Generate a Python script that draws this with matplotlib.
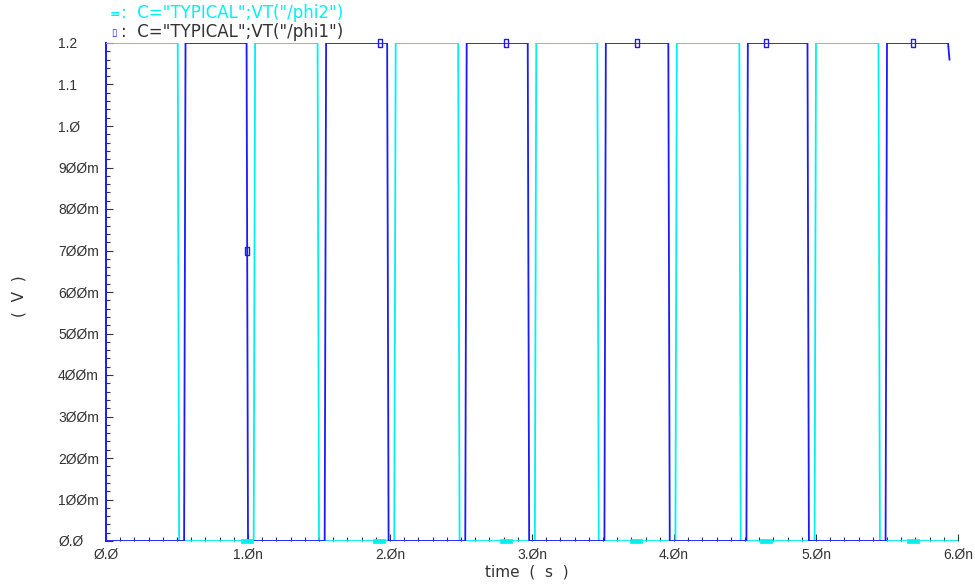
import matplotlib
matplotlib.use('Agg')
import matplotlib.pyplot as plt
from matplotlib.ticker import MultipleLocator, FixedLocator
from matplotlib.markers import MarkerStyle
import numpy as np

plt.rcParams['font.family'] = ['Liberation Sans', 'DejaVu Sans']

# edge times (ns)
phi2_rise = [1.04, 2.03, 3.02, 4.01, 4.99]
phi2_fall = [0.505, 1.49, 2.48, 3.46, 4.46, 5.44]
phi1_rise = [0.55, 1.54, 2.53, 3.51, 4.51, 5.49]
phi1_fall = [0.99, 1.98, 2.97, 3.96, 4.94]
phi1_end = (5.94, 1.16)   # trace stops on the last falling edge
t_stop = 6.0
vdd = 1.2
tr = 0.01

# marker positions on the traces (ns, V)
phi1_marks_t = [0.99, 1.93, 2.82, 3.74, 4.65, 5.68]
phi1_marks_v = [0.70, 1.2, 1.2, 1.2, 1.2, 1.2]
phi2_marks_t = [0.99, 1.92, 2.82, 3.73, 4.65, 5.68]
phi2_marks_v = [0.0, 0.0, 0.0, 0.0, 0.0, 0.0]

yticks = [0.0, 0.1, 0.2, 0.3, 0.4, 0.5, 0.6, 0.7, 0.8, 0.9, 1.0, 1.1, 1.2]
ylabels = ['Ø.Ø', '1ØØm', '2ØØm', '3ØØm', '4ØØm', '5ØØm', '6ØØm', '7ØØm',
           '8ØØm', '9ØØm', '1.Ø', '1.1', '1.2']
xticks = [0, 1, 2, 3, 4, 5, 6]
xlabels = ['Ø.Ø', '1.Øn', '2.Øn', '3.Øn', '4.Øn', '5.Øn', '6.Øn']


def wave(v0, rises, falls, t_end):
    ts, vs = [0.0], [v0]
    for te, lvl in sorted([(r, vdd) for r in rises] + [(f, 0.0) for f in falls]):
        ts += [te, te + tr]
        vs += [vs[-1], lvl]
    ts.append(t_end)
    vs.append(vs[-1])
    return np.array(ts), np.array(vs)


t2, v2 = wave(vdd, phi2_rise, phi2_fall, t_stop)
t1, v1 = wave(0.0, phi1_rise, phi1_fall, phi1_end[0] - tr)
t1 = np.append(t1, phi1_end[0])
v1 = np.append(v1, phi1_end[1])

blue = '#1a1aff'
cyan = '#00f0f0'
txt = '#333333'

tall_box = MarkerStyle([(-1, -2), (1, -2), (1, 2), (-1, 2), (-1, -2)])
flat_box = MarkerStyle([(-2, -0.7), (2, -0.7), (2, 0.7), (-2, 0.7), (-2, -0.7)])

fig = plt.figure(figsize=(9.75, 5.85), dpi=100)
ax = fig.add_axes([106/975, 44/585, 852/975, 498/585])

ax.plot(t2, v2, color=cyan, lw=1.3, zorder=3)
ax.plot(t1, v1, color=blue, lw=1.3, zorder=4)
ax.plot(phi2_marks_t, phi2_marks_v, ls='none', marker=flat_box, ms=8,
        mfc=cyan, mec=cyan, mew=0.5, zorder=5, clip_on=False)
ax.plot(phi1_marks_t, phi1_marks_v, ls='none', marker=tall_box, ms=6,
        mfc='none', mec=blue, mew=1.0, zorder=6, clip_on=False)

ax.set_xlim(0, t_stop)
ax.set_ylim(0, vdd)
for s in ['top', 'right', 'bottom']:
    ax.spines[s].set_visible(False)
ax.spines['left'].set_color(blue)
ax.spines['left'].set_linewidth(1.4)

ax.yaxis.set_major_locator(FixedLocator(yticks))
ax.set_yticklabels(ylabels)
ax.yaxis.set_minor_locator(MultipleLocator(0.02))
ax.xaxis.set_major_locator(FixedLocator(xticks))
ax.set_xticklabels(xlabels)
ax.xaxis.set_minor_locator(MultipleLocator(0.1))

ax.tick_params(axis='both', which='both', direction='in', colors=txt,
               labelsize=10, labelcolor=txt, width=0.8)
ax.tick_params(axis='both', which='major', length=5)
ax.tick_params(axis='both', which='minor', length=3)
ax.tick_params(axis='y', which='major', pad=34.5)
ax.tick_params(axis='x', which='major', pad=5)
for lb in ax.get_yticklabels():
    lb.set_horizontalalignment('left')

fig.text(527/975, 1 - 572/585, 'time  (  s  )', ha='center', va='center',
         fontsize=11, color=txt, family=['DejaVu Sans'])
fig.text(19/975, 1 - 296/585, '(  V  )', ha='center', va='center',
         rotation=90, fontsize=11, color=txt, family=['DejaVu Sans'])

# legend lines at the top
fig.text(110/975, 1 - 14/585, '=', ha='left', va='center', fontsize=9,
         color=cyan, weight='bold', family=['DejaVu Sans'])
fig.text(121/975, 1 - 13/585, ':  C="TYPICAL";VT("/phi2")', ha='left',
         va='center', fontsize=12, color=cyan, family=['DejaVu Sans'])
fig.text(111/975, 1 - 33/585, '▯', ha='left', va='center', fontsize=7,
         color=blue, family=['DejaVu Sans'])
fig.text(121/975, 1 - 32/585, ':  C="TYPICAL";VT("/phi1")', ha='left',
         va='center', fontsize=12, color=txt, family=['DejaVu Sans'])

fig.savefig('out.png', dpi=100, facecolor='white')
